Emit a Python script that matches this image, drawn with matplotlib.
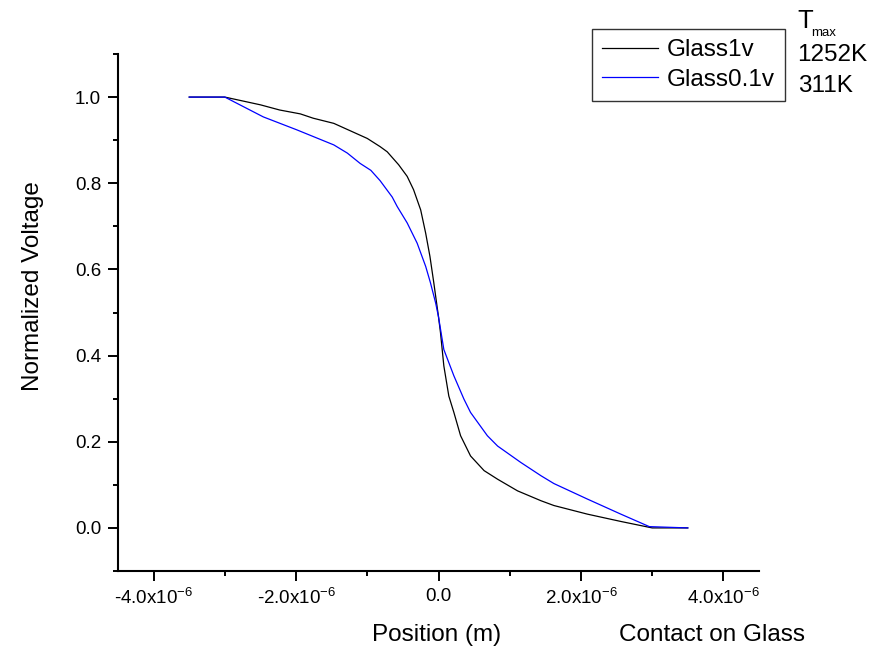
import numpy as np
import matplotlib
matplotlib.use('Agg')
import matplotlib.pyplot as plt
from matplotlib.ticker import MultipleLocator, FuncFormatter

plt.rcParams['font.family'] = ['Liberation Sans', 'DejaVu Sans']
plt.rcParams['mathtext.fontset'] = 'custom'
plt.rcParams['mathtext.rm'] = 'Liberation Sans'
plt.rcParams['mathtext.it'] = 'Liberation Sans:italic'

# Position in micrometres, normalized voltage
x_glass1v = [-3.5, -3.0, -2.5, -2.23, -1.94, -1.76, -1.47, -1.0, -0.82, -0.72,
             -0.56, -0.44, -0.35, -0.25, -0.18, -0.12, -0.066, 0.0, 0.028, 0.075,
             0.145, 0.216, 0.31, 0.45, 0.64, 0.83, 1.11, 1.44, 1.62, 2.09,
             2.56, 3.0, 3.5]
v_glass1v = [1.0, 1.0, 0.982, 0.970, 0.961, 0.951, 0.939, 0.904, 0.885, 0.873,
             0.843, 0.816, 0.785, 0.738, 0.684, 0.630, 0.569, 0.49, 0.453, 0.376,
             0.306, 0.268, 0.214, 0.167, 0.133, 0.113, 0.086, 0.063, 0.052, 0.032,
             0.015, 0.0, 0.0]

x_glass01v = [-3.5, -3.0, -2.46, -1.99, -1.47, -1.28, -1.10, -0.95, -0.82, -0.65,
              -0.58, -0.44, -0.30, -0.18, -0.113, -0.04, 0.0, 0.075, 0.216, 0.357,
              0.45, 0.686, 0.83, 1.155, 1.44, 1.62, 2.09, 2.56, 2.96, 3.5]
v_glass01v = [1.0, 1.0, 0.954, 0.924, 0.889, 0.870, 0.846, 0.830, 0.806, 0.768,
              0.746, 0.708, 0.661, 0.607, 0.569, 0.522, 0.49, 0.414, 0.353, 0.299,
              0.268, 0.214, 0.19, 0.152, 0.121, 0.103, 0.067, 0.032, 0.003, 0.0]

labels = ['Glass1v', 'Glass0.1v']
tmax_labels = ['1252K', '311K']

W, H = 881, 654
fig = plt.figure(figsize=(W / 100, H / 100), dpi=100)
ax = fig.add_axes([118 / W, 1 - 571 / H, (759 - 118) / W, (571 - 54) / H])

ax.plot(np.array(x_glass1v) * 1e-6, v_glass1v, color='black', lw=0.9, label=labels[0])
ax.plot(np.array(x_glass01v) * 1e-6, v_glass01v, color='#0000ff', lw=0.9, label=labels[1])

ax.set_xlim(-4.5e-6, 4.5e-6)
ax.set_ylim(-0.1, 1.1)

for side in ['top', 'right']:
    ax.spines[side].set_visible(False)
for side in ['left', 'bottom']:
    ax.spines[side].set_linewidth(1.5)

ax.xaxis.set_major_locator(MultipleLocator(2e-6))
ax.xaxis.set_minor_locator(MultipleLocator(1e-6))
ax.yaxis.set_major_locator(MultipleLocator(0.2))
ax.yaxis.set_minor_locator(MultipleLocator(0.1))


def xfmt(v, pos):
    m = v * 1e6
    if abs(m) < 1e-9:
        return '0.0'
    return '%.1fx10$^{-6}$' % m


ax.xaxis.set_major_formatter(FuncFormatter(xfmt))
ax.yaxis.set_major_formatter(FuncFormatter(lambda v, p: '%.1f' % v))
ax.tick_params(which='major', direction='out', length=7.2, width=1.4,
               labelsize=13.5, pad=5)
ax.tick_params(which='minor', direction='out', length=3.6, width=1.4)

ax.set_xlabel('Position (m)', fontsize=17.5, va='center')
ax.xaxis.set_label_coords((437 - 118) / 641, (571 - 635) / 517)
ax.set_ylabel('Normalized Voltage', fontsize=17.5, va='center')
ax.yaxis.set_label_coords((33 - 118) / 641, (571 - 286) / 517)

fig.text(712 / W, 1 - 635 / H, 'Contact on Glass', fontsize=17.5,
         ha='center', va='center')

leg = ax.legend(loc='upper left', bbox_to_anchor=(592 / W, 1 - 29 / H),
                bbox_transform=fig.transFigure, borderaxespad=0,
                fontsize=17.5, frameon=True, fancybox=False,
                handlelength=2.3, handletextpad=0.35, labelspacing=0.3,
                borderpad=0.42)
leg.get_frame().set_edgecolor('black')
leg.get_frame().set_linewidth(1.0)

# T_max column next to the legend
fig.text(797 / W, 1 - 28 / H, 'T', fontsize=18.5, ha='left', va='baseline')
fig.text(811 / W, 1 - 36 / H, 'max', fontsize=9.5, ha='left', va='baseline')
fig.text(797 / W, 1 - 61 / H, tmax_labels[0], fontsize=17.5, ha='left', va='baseline')
fig.text(798 / W, 1 - 92 / H, tmax_labels[1], fontsize=17.5, ha='left', va='baseline')

fig.savefig('out.png', dpi=100)
